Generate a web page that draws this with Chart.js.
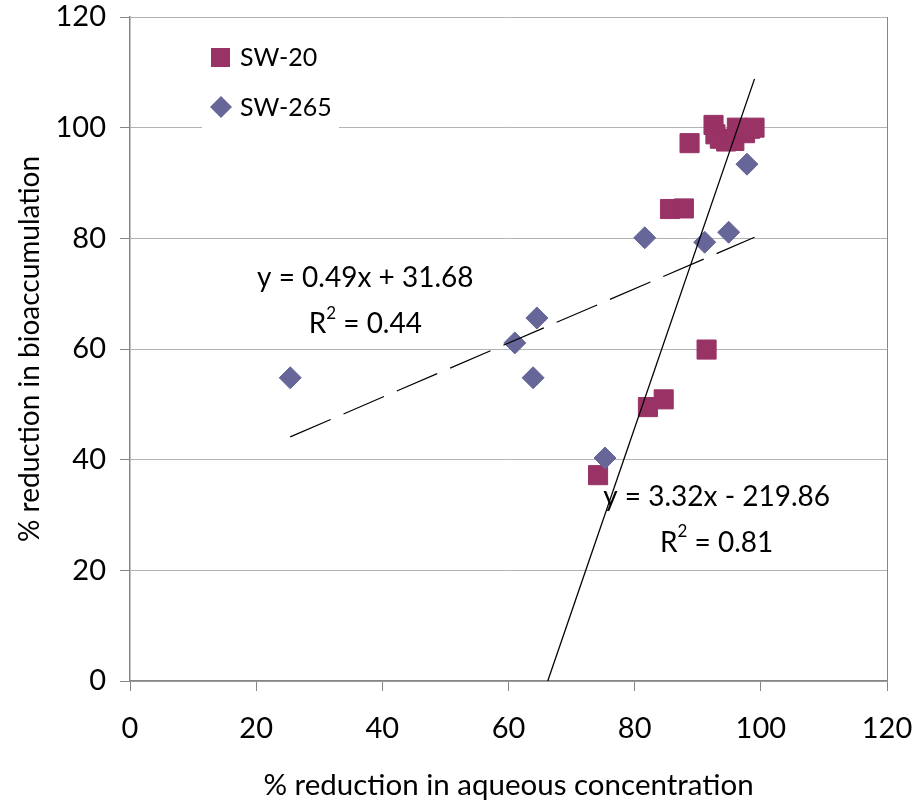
<!DOCTYPE html>
<html>
<head>
<meta charset="utf-8">
<title>Bioaccumulation vs aqueous reduction</title>
<script src="https://cdn.jsdelivr.net/npm/chart.js@4.4.0/dist/chart.umd.min.js"></script>
<style>
    html, body { margin: 0; padding: 0; background: #fff; }
    #wrap { width: 917px; height: 809px; }
</style>
</head>
<body>
<div id="wrap"><canvas id="chart" width="917" height="809"></canvas></div>
<script>
// SW-20 (squares)
const sw20X = [74.2, 82.1, 84.6, 91.4, 85.6, 87.8, 88.7, 92.5, 92.8, 93.5, 94.5, 95.8, 96.2, 97.5, 98.3, 99.0];
const sw20Y = [37.2, 49.5, 50.9, 59.9, 85.3, 85.4, 97.2, 100.5, 98.8, 98.0, 97.5, 97.6, 100.0, 99.0, 99.8, 100.0];

// SW-265 (diamonds)
const sw265X = [25.4, 61.0, 64.5, 63.9, 81.6, 75.3, 91.1, 94.9, 97.8];
const sw265Y = [54.8, 61.1, 65.6, 54.8, 80.1, 40.3, 79.3, 81.1, 93.4];

// linear trendlines as printed on the chart
const sw20Fit = { slope: 3.32, intercept: -219.86, r2: 0.81 };
const sw265Fit = { slope: 0.49, intercept: 31.68, r2: 0.44 };
const fitEndX = 99.0;

const xTicks = [0, 20, 40, 60, 80, 100, 120];
const yTicks = [0, 20, 40, 60, 80, 100, 120];

const seriesNames = ['SW-20', 'SW-265'];
const sw20Color = '#993366';
const sw265Color = '#666699';
const gridColor = '#b3b3b3';
const axisColor = '#868686';
const font = 'Lato, "Liberation Sans", sans-serif';

const toPoints = (xs, ys) => xs.map((x, i) => ({ x, y: ys[i] }));
const fitLine = (fit, x0, x1) => [
    { x: x0, y: fit.slope * x0 + fit.intercept },
    { x: x1, y: fit.slope * x1 + fit.intercept },
];

const sw20Start = -sw20Fit.intercept / sw20Fit.slope;
const sw265Start = Math.min(...sw265X);

const fmt = (v) => v.toFixed(2);
const eqText = (fit) => `y = ${fmt(fit.slope)}x ${fit.intercept < 0 ? '-' : '+'} ${fmt(Math.abs(fit.intercept))}`;

// legend and equation labels drawn onto the plot
const annotations = {
    id: 'annotations',
    afterDraw(chart) {
        const { ctx, scales } = chart;
        const xs = scales.x;
        const ys = scales.y;
        ctx.save();

        // legend box
        ctx.fillStyle = '#fff';
        ctx.fillRect(202, 26, 137, 106);
        ctx.font = `25px ${font}`;
        ctx.textBaseline = 'middle';
        ctx.textAlign = 'left';

        ctx.fillStyle = sw20Color;
        ctx.fillRect(211, 48, 19, 19);
        ctx.fillStyle = '#000';
        ctx.fillText(seriesNames[0], 240, 58);

        ctx.fillStyle = sw265Color;
        ctx.beginPath();
        ctx.moveTo(221, 96);
        ctx.lineTo(232, 107);
        ctx.lineTo(221, 118);
        ctx.lineTo(210, 107);
        ctx.closePath();
        ctx.fill();
        ctx.fillStyle = '#000';
        ctx.fillText(seriesNames[1], 240, 108);

        // equations
        const drawEq = (fit, cx, cy) => {
            ctx.textAlign = 'center';
            ctx.font = `28px ${font}`;
            ctx.fillText(eqText(fit), cx, cy);
            const r = 'R';
            const rest = ` = ${fmt(fit.r2)}`;
            const wR = ctx.measureText(r).width;
            const wRest = ctx.measureText(rest).width;
            ctx.font = `17px ${font}`;
            const w2 = ctx.measureText('2').width;
            const total = wR + w2 + wRest;
            let x = cx - total / 2;
            ctx.textAlign = 'left';
            ctx.font = `28px ${font}`;
            ctx.fillText(r, x, cy + 46);
            x += wR;
            ctx.font = `17px ${font}`;
            ctx.fillText('2', x, cy + 35);
            x += w2;
            ctx.font = `28px ${font}`;
            ctx.fillText(rest, x, cy + 46);
        };
        drawEq(sw265Fit, xs.getPixelForValue(37.3), ys.getPixelForValue(72.8));
        drawEq(sw20Fit, xs.getPixelForValue(93.0), ys.getPixelForValue(33.3));

        ctx.restore();
    },
};

new Chart(document.getElementById('chart'), {
    type: 'scatter',
    data: {
        datasets: [
            {
                label: 'SW-20 fit',
                type: 'line',
                data: fitLine(sw20Fit, sw20Start, fitEndX),
                borderColor: '#000',
                borderWidth: 1.3,
                pointRadius: 0,
                fill: false,
                order: 0,
            },
            {
                label: 'SW-265 fit',
                type: 'line',
                data: fitLine(sw265Fit, sw265Start, fitEndX),
                borderColor: '#000',
                borderWidth: 1.2,
                borderDash: [44, 14],
                pointRadius: 0,
                fill: false,
                order: 0,
            },
            {
                label: seriesNames[1],
                data: toPoints(sw265X, sw265Y),
                pointStyle: 'rectRot',
                pointRadius: 11,
                backgroundColor: sw265Color,
                borderColor: sw265Color,
                borderWidth: 1,
                order: 1,
            },
            {
                label: seriesNames[0],
                data: toPoints(sw20X, sw20Y),
                pointStyle: 'rect',
                pointRadius: 13.5,
                backgroundColor: sw20Color,
                borderColor: sw20Color,
                borderWidth: 1,
                order: 2,
            },
        ],
    },
    options: {
        responsive: false,
        animation: false,
        events: [],
        layout: { padding: { top: 17, right: 30, left: 0, bottom: 0 } },
        plugins: {
            legend: { display: false },
            tooltip: { enabled: false },
        },
        scales: {
            x: {
                type: 'linear',
                min: 0,
                max: 120,
                afterBuildTicks: (scale) => { scale.ticks = xTicks.map((v) => ({ value: v })); },
                afterFit: (scale) => {
                    scale.height = 128;
                    scale.paddingLeft = 0;
                    scale.paddingRight = 0;
                },
                ticks: {
                    color: '#000',
                    font: { family: font, size: 29 },
                    padding: 20,
                },
                grid: {
                    color: (c) => (c.tick && c.tick.value === 120 ? axisColor : 'transparent'),
                    tickColor: axisColor,
                    tickLength: 10,
                },
                border: { color: axisColor, width: 1.5 },
                title: {
                    display: true,
                    text: '% reduction in aqueous concentration',
                    color: '#000',
                    font: { family: font, size: 29.5 },
                    padding: { top: 0, bottom: 6 },
                },
            },
            y: {
                type: 'linear',
                min: 0,
                max: 120,
                afterBuildTicks: (scale) => { scale.ticks = yTicks.map((v) => ({ value: v })); },
                afterFit: (scale) => {
                    scale.width = 130;
                    scale.paddingTop = 0;
                    scale.paddingBottom = 0;
                },
                ticks: {
                    color: '#000',
                    font: { family: font, size: 29 },
                    padding: 14,
                },
                grid: {
                    color: gridColor,
                    tickColor: axisColor,
                    tickLength: 10,
                },
                border: { color: axisColor, width: 1.5 },
                title: {
                    display: true,
                    text: '% reduction in bioaccumulation',
                    color: '#000',
                    font: { family: font, size: 28 },
                    padding: { top: 13, bottom: 0 },
                },
            },
        },
    },
    plugins: [annotations],
});
</script>
</body>
</html>
